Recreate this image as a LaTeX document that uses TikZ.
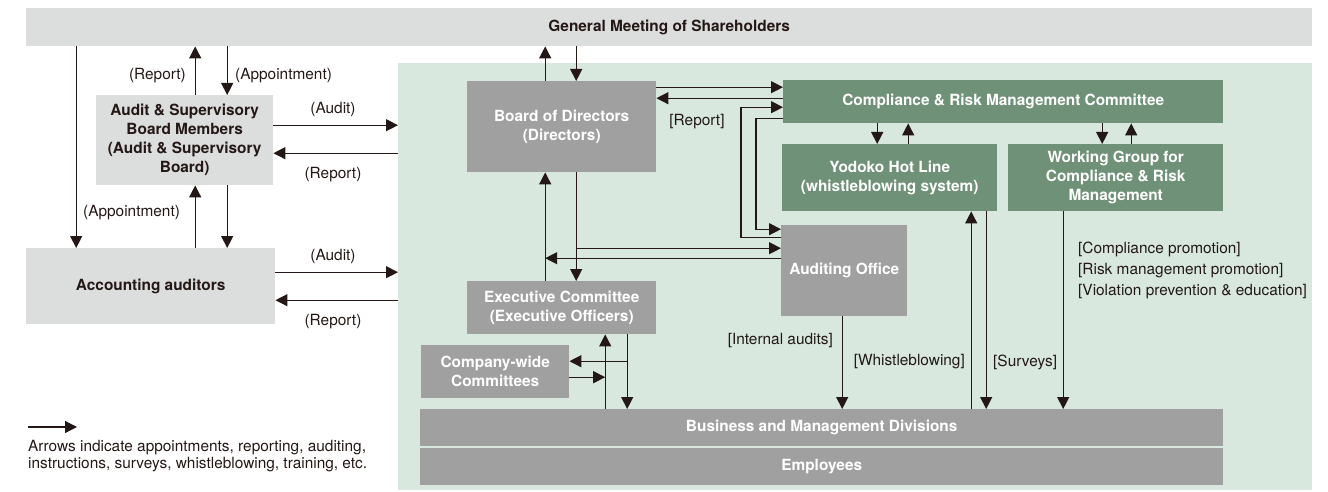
\documentclass[tikz,border=0pt]{standalone}
\usepackage{fontspec}
\setmainfont{TeX Gyre Heros}
\usetikzlibrary{arrows.meta, calc}
\definecolor{ltgray}{HTML}{DCDDDD}
\definecolor{mdgray}{HTML}{A0A0A0}
\definecolor{bggreen}{HTML}{D8E8DF}
\definecolor{dkgreen}{HTML}{6F9177}
\definecolor{ink}{HTML}{231815}
\newcommand{\boxfont}{\fontsize{15.4pt}{19pt}\selectfont\bfseries}
\newcommand{\lblfont}{\fontsize{15.4pt}{17pt}\selectfont}
\tikzset{
  orgbox/.style={anchor=north west, inner sep=0pt, align=center, font=\boxfont},
  lgbox/.style={orgbox, fill=ltgray, text=ink},
  gybox/.style={orgbox, fill=mdgray, text=white},
  gnbox/.style={orgbox, fill=dkgreen, text=white},
  lbl/.style={text=ink, font=\lblfont, inner sep=0pt},
  arr/.style={->, draw=ink, line width=1.3pt},
}

\begin{document}
\begin{tikzpicture}[x=1pt, y=1pt, >={Triangle[length=12pt, width=12pt]}]

% Background
\useasboundingbox (0,0) rectangle (1328,-492);
\node[fill=bggreen, anchor=north west, inner sep=0pt,
      minimum width=914pt, minimum height=427pt] (grn) at (398,-63) {};

% Shareholders
\node[lgbox, minimum width=1286pt, minimum height=38pt] (gms) at (26,-8)
  {General Meeting of Shareholders};

% Left side: auditors
\node[lgbox, minimum width=177pt, minimum height=90pt] (asb) at (96,-95)
  {Audit \& Supervisory\\Board Members\\(Audit \& Supervisory\\Board)};
\node[lgbox, minimum width=249pt, minimum height=76pt] (acc) at (26,-248)
  {Accounting auditors};

% Management side
\node[gybox, minimum width=189pt, minimum height=91pt] (bod) at (467,-81)
  {Board of Directors\\(Directors)};
\node[gnbox, minimum width=440pt, minimum height=43pt] (crmc) at (783,-80)
  {Compliance \& Risk Management Committee};
\node[gnbox, minimum width=215pt, minimum height=67pt] (yhl) at (782,-144)
  {Yodoko Hot Line\\(whistleblowing system)};
\node[gnbox, minimum width=215pt, minimum height=67pt] (wg) at (1008,-144)
  {Working Group for\\Compliance \& Risk\\Management};
\node[gybox, minimum width=126pt, minimum height=91pt] (ao) at (781,-225)
  {Auditing Office};
\node[gybox, minimum width=189pt, minimum height=53pt] (exc) at (467,-281)
  {Executive Committee\\(Executive Officers)};
\node[gybox, minimum width=148pt, minimum height=53pt] (cwc) at (421,-345)
  {Company-wide\\Committees};
\node[gybox, minimum width=803pt, minimum height=37pt] (bmd) at (420,-409)
  {Business and Management Divisions};
\node[gybox, minimum width=803pt, minimum height=37pt] (emp) at (420,-448)
  {Employees};

% Shareholders <-> auditors
\draw[arr] ([xshift=-74.5pt]acc.north |- gms.south) -- ([xshift=-74.5pt]acc.north);
\draw[arr] ([xshift=10.5pt]asb.north) -- ([xshift=10.5pt]asb.north |- gms.south);
\draw[arr] ([xshift=42.5pt]asb.north |- gms.south) -- ([xshift=42.5pt]asb.north);
\draw[arr] ([xshift=10.5pt]asb.south |- acc.north) -- ([xshift=10.5pt]asb.south);
\draw[arr] ([xshift=42.5pt]asb.south) -- ([xshift=42.5pt]asb.south |- acc.north);
\node[lbl, anchor=west] at (83,-213) {(Appointment)};
\node[lbl, anchor=east] at (186,-76) {(Report)};
\node[lbl, anchor=west] at (235,-76) {(Appointment)};

% Auditors <-> company
\draw[arr] ([yshift=15pt]asb.east) -- ([yshift=15pt]asb.east -| grn.west);
\draw[arr] ([yshift=-13pt]asb.east -| grn.west) -- ([yshift=-13pt]asb.east);
\draw[arr] ([yshift=14pt]acc.east) -- ([yshift=14pt]acc.east -| grn.west);
\draw[arr] ([yshift=-14pt]acc.east -| grn.west) -- ([yshift=-14pt]acc.east);
\node[lbl] at (333,-110) {(Audit)};
\node[lbl] at (333,-175) {(Report)};
\node[lbl] at (333,-257) {(Audit)};
\node[lbl] at (333,-322) {(Report)};

% Board of Directors
\draw[arr] ([xshift=-16.5pt]bod.north) -- ([xshift=-16.5pt]bod.north |- gms.south);
\draw[arr] ([xshift=14.5pt]bod.north |- gms.south) -- ([xshift=14.5pt]bod.north);
\draw[arr] ([yshift=14.5pt]crmc.west -| bod.east) -- ([yshift=14.5pt]crmc.west);
\draw[arr] ([yshift=3.5pt]crmc.west) -- ([yshift=3.5pt]crmc.west -| bod.east);
\node[lbl] at (697,-122) {[Report]};
\draw[arr] ([xshift=14.5pt]bod.south) -- ([xshift=14.5pt]exc.north);
\draw[arr] ([xshift=-16.5pt]exc.north) -- ([xshift=-16.5pt]bod.south);

% Auditing Office
\draw[arr] ([yshift=33.5pt]ao.west) -- ++(-40,0) |- ([yshift=-5.5pt]crmc.west);
\draw[arr] ([yshift=-16.5pt]crmc.west) -- ++(-27,0) |- ([yshift=41.5pt]ao.west);
\draw[arr] ([xshift=14.5pt,yshift=22.5pt]bod.south |- ao.west) -- ([yshift=22.5pt]ao.west);
\draw[arr] ([yshift=12.5pt]ao.west) -- ([xshift=-16.5pt,yshift=12.5pt]bod.south |- ao.west);
\draw[arr] ([xshift=-2pt]ao.south) -- ([xshift=-2pt]ao.south |- bmd.north);
\node[lbl, anchor=east] at (833,-341) {[Internal audits]};

% Compliance committee
\draw[arr] ([xshift=-12.5pt]yhl.north |- crmc.south) -- ([xshift=-12.5pt]yhl.north);
\draw[arr] ([xshift=18.5pt]yhl.north) -- ([xshift=18.5pt]yhl.north |- crmc.south);
\draw[arr] ([xshift=-13.5pt]wg.north |- crmc.south) -- ([xshift=-13.5pt]wg.north);
\draw[arr] ([xshift=15.5pt]wg.north) -- ([xshift=15.5pt]wg.north |- crmc.south);

% Hot line and working group
\draw[arr] ([xshift=81.5pt]yhl.south |- bmd.north) -- ([xshift=81.5pt]yhl.south);
\draw[arr] ([xshift=96.5pt]yhl.south) -- ([xshift=96.5pt]yhl.south |- bmd.north);
\node[lbl, anchor=east] at (965,-362) {[Whistleblowing]};
\node[lbl, anchor=west] at (993,-362) {[Surveys]};
\draw[arr] ([xshift=-52.5pt]wg.south) -- ([xshift=-52.5pt]wg.south |- bmd.north);
\node[lbl, anchor=west, align=left, font=\fontsize{15.4pt}{21pt}\selectfont] at (1078,-270)
  {[Compliance promotion]\\{}[Risk management promotion]\\{}[Violation prevention \& education]};

% Executive Committee
\draw[arr] ([xshift=43.5pt]exc.south |- bmd.north) -- ([xshift=43.5pt]exc.south);
\draw[arr] ([xshift=65.5pt]exc.south) -- ([xshift=65.5pt]exc.south |- bmd.north);
\draw[arr] ([xshift=65.5pt,yshift=10.5pt]exc.south |- cwc.east) -- ([yshift=10.5pt]cwc.east);
\draw[arr] ([yshift=-5.5pt]cwc.east) -- ([xshift=43.5pt,yshift=-5.5pt]exc.south |- cwc.east);

% Legend
\coordinate (lgd) at (28,-427);
\draw[arr] (lgd) -- ++(49,0);
\node[lbl, anchor=north west, align=left] at (28,-440)
  {Arrows indicate appointments, reporting, auditing,\\instructions, surveys, whistleblowing, training, etc.};

\end{tikzpicture}
\end{document}
